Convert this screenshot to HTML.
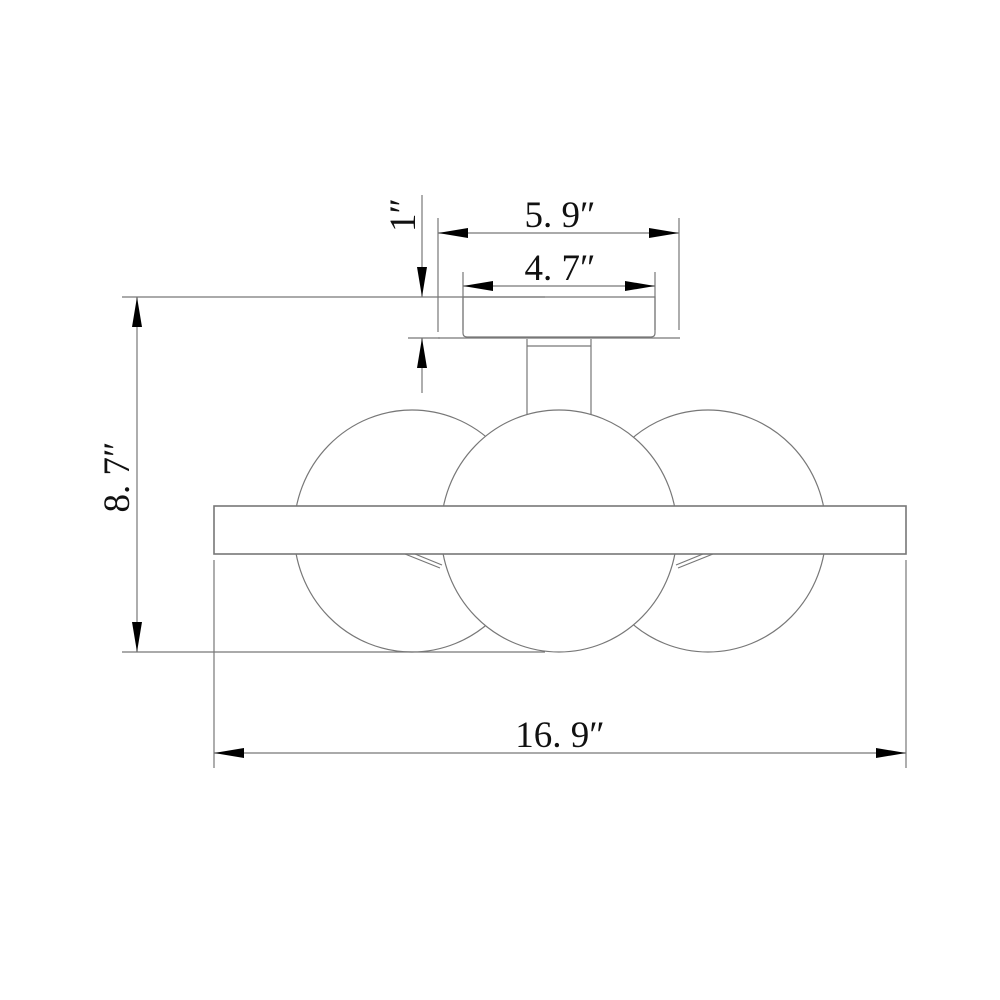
<!DOCTYPE html>
<html><head><style>html,body{margin:0;padding:0;background:#fff}svg{display:block}</style></head>
<body>
<svg width="1000" height="1000" viewBox="0 0 1000 1000" xmlns="http://www.w3.org/2000/svg">
<defs>
<marker id="a" viewBox="0 0 30 10" refX="30" refY="5" markerWidth="30" markerHeight="10" markerUnits="userSpaceOnUse" orient="auto-start-reverse"><path d="M0,0 L30,5 L0,10 Z" fill="#000"/></marker>
</defs>
<g fill="none" stroke="#777" stroke-width="1.2">
<ellipse cx="412" cy="531" rx="118" ry="121"/>
<ellipse cx="708" cy="531" rx="118" ry="121"/>
<path d="M527,339 V416 M591,339 V416 M527,346 H591"/>
<ellipse cx="559" cy="531" rx="118" ry="121" fill="#fff"/>
<path d="M405,554 L440,568 M415,554 L442,565 M713,554 L678,568 M703,554 L676,565"/>
<rect x="214" y="506" width="692" height="48" fill="#fff" stroke-width="1.6"/>
<path d="M463,297 H655 V333 Q655,337 651,337 H467 Q463,337 463,333 Z"/>
<path d="M438,338 H680"/>
<path d="M122,297 H545 M122,652 H545 M408,338 H440"/>
<path d="M438,218 V332 M679,218 V330 M463,272 V330 M655,272 V330"/>
<path d="M214,560 V768 M906,560 V768"/>
</g>
<g stroke="#777" stroke-width="1.2">
<line x1="438" y1="233" x2="679" y2="233" marker-start="url(#a)" marker-end="url(#a)"/>
<line x1="463" y1="286" x2="655" y2="286" marker-start="url(#a)" marker-end="url(#a)"/>
<line x1="214" y1="753" x2="906" y2="753" marker-start="url(#a)" marker-end="url(#a)"/>
<line x1="137" y1="297" x2="137" y2="652" marker-start="url(#a)" marker-end="url(#a)"/>
<line x1="422" y1="195" x2="422" y2="297" marker-end="url(#a)"/>
<line x1="422" y1="393" x2="422" y2="338" marker-end="url(#a)"/>
</g>
<g font-family="'Liberation Serif',serif" font-size="37" fill="#111" text-anchor="middle">
<text x="560" y="227">5. 9″</text>
<text x="560" y="280">4. 7″</text>
<text x="560" y="747">16. 9″</text>
<text transform="translate(129,477) rotate(-90)">8. 7″</text>
<text transform="translate(415,215) rotate(-90)">1″</text>
</g>
</svg>
</body></html>
